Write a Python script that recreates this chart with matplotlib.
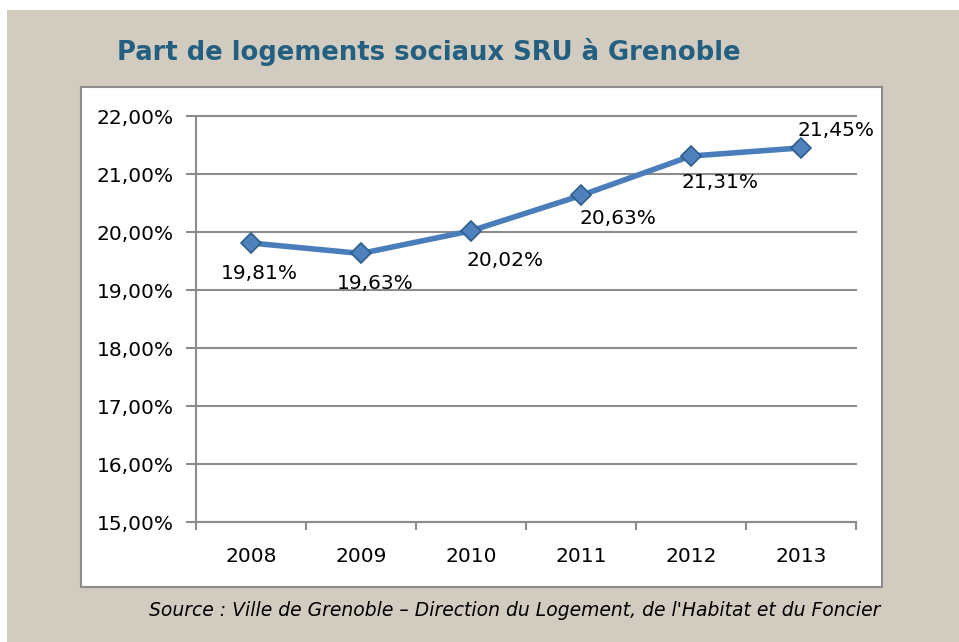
import matplotlib.pyplot as plt
from matplotlib.patches import Rectangle

years = ['2008', '2009', '2010', '2011', '2012', '2013']
share = [19.81, 19.63, 20.02, 20.63, 21.31, 21.45]
labels = ['19,81%', '19,63%', '20,02%', '20,63%', '21,31%', '21,45%']
# label offsets in pixels (dx, dy) as placed in the original
label_off = [(8, -30), (14, -30), (34, -30), (37, -23), (29, -26), (35, 17)]
yticks = [15, 16, 17, 18, 19, 20, 21, 22]

fig = plt.figure(figsize=(9.59, 6.42), dpi=100)
fig.patch.set_facecolor('white')
W, H = 959, 642

# beige backdrop and white chart box
fig.patches.append(Rectangle((7 / W, 0), 1, 1 - 10 / H, transform=fig.transFigure,
                             facecolor='#d2cbbf', edgecolor='none', zorder=-2))
fig.patches.append(Rectangle((81 / W, 1 - 587 / H), (882 - 81) / W, (587 - 87) / H,
                             transform=fig.transFigure, facecolor='white',
                             edgecolor='#8c8c8c', linewidth=1.5, zorder=-1))

ax = fig.add_axes([196 / W, 1 - 522 / H, 660 / W, 406 / H])
ax.set_facecolor('none')
x = list(range(len(years)))
ax.plot(x, share, color='#4a7ebb', linewidth=4, marker='D', markersize=10,
        markerfacecolor='#4f81bd', markeredgecolor='#2c5d8a', markeredgewidth=1.2,
        zorder=3, clip_on=False)

for xi, yi, lab, (dx, dy) in zip(x, share, labels, label_off):
    ax.annotate(lab, (xi, yi), xytext=(dx, dy), textcoords='offset pixels',
                ha='center', va='center', fontsize=14.5, color='black')

ax.set_xlim(-0.5, 5.5)
ax.set_ylim(15, 22)
ax.set_yticks(yticks)
ax.set_yticklabels([f'{v},00%' for v in yticks], fontsize=14.5)
ax.set_xticks(x)
ax.set_xticklabels(years, fontsize=14.5)
ax.set_xticks([i - 0.5 for i in range(len(years) + 1)], minor=True)
ax.tick_params(axis='x', which='major', length=0, pad=18)
ax.tick_params(axis='x', which='minor', length=6, width=1.5, color='#8c8c8c')
ax.tick_params(axis='y', length=7, width=1.5, color='#8c8c8c', pad=9)
ax.yaxis.grid(True, color='#8c8c8c', linewidth=1.5)
for gl in ax.get_ygridlines():
    gl.set_clip_on(False)
ax.set_axisbelow(True)
for s in ['top', 'right']:
    ax.spines[s].set_visible(False)
for s in ['left', 'bottom']:
    ax.spines[s].set_color('#8c8c8c')
    ax.spines[s].set_linewidth(1.5)

fig.text(117 / W, 1 - 52 / H, 'Part de logements sociaux SRU à Grenoble',
         fontsize=18.6, fontweight='bold', color='#235f80', ha='left', va='center')
fig.text(880 / W, 1 - 611 / H,
         "Source : Ville de Grenoble – Direction du Logement, de l'Habitat et du Foncier",
         fontsize=13.5, style='italic', color='black', ha='right', va='center')

fig.savefig('out.png', dpi=100)
